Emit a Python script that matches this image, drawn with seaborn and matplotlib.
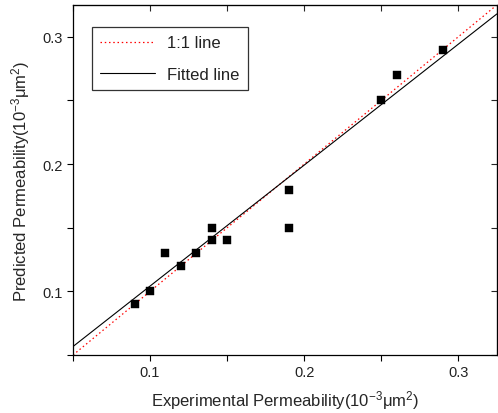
import numpy as np
import pandas as pd
import matplotlib
matplotlib.use("Agg")
import matplotlib.pyplot as plt
import seaborn as sns
from matplotlib.ticker import MultipleLocator

# ------------------------------------
# DATA
# ------------------------------------
experimental = [0.09, 0.10, 0.11, 0.12, 0.13, 0.14, 0.14, 0.15, 0.19, 0.19, 0.25, 0.26, 0.29]
predicted = [0.09, 0.10, 0.13, 0.12, 0.13, 0.15, 0.14, 0.14, 0.18, 0.15, 0.25, 0.27, 0.29]
axis_range = [0.05, 0.325]

# fitted line
fit_slope = 0.95
fit_intercept = 0.0092

df = pd.DataFrame({"Experimental": experimental, "Predicted": predicted})

# ------------------------------------
# STYLE
# ------------------------------------
sns.set_style("ticks")
plt.rcParams["font.family"] = ["Liberation Sans", "DejaVu Sans"]
plt.rcParams["mathtext.fontset"] = "custom"
plt.rcParams["mathtext.rm"] = "Liberation Sans"
plt.rcParams["mathtext.it"] = "Liberation Sans"
plt.rcParams["text.color"] = "#222222"

fig = plt.figure(figsize=(4.98, 4.14), dpi=100)
ax = fig.add_axes([0.1466, 0.140, 0.851, 0.8455])

# 1:1 line
ax.plot(axis_range, axis_range, color="red", linestyle=(0, (1.2, 2.2)),
        linewidth=0.9, label="1:1 line", zorder=2)

# fitted line
xs = np.array(axis_range)
ax.plot(xs, fit_slope * xs + fit_intercept, color="black", linewidth=0.8,
        label="Fitted line", zorder=2)

sns.scatterplot(data=df, x="Experimental", y="Predicted", marker="s",
                color="black", s=34, edgecolor="black", linewidth=0.3,
                ax=ax, zorder=3)

ax.set_xlim(axis_range)
ax.set_ylim(axis_range)
ax.xaxis.set_major_locator(MultipleLocator(0.1))
ax.xaxis.set_minor_locator(MultipleLocator(0.05))
ax.yaxis.set_major_locator(MultipleLocator(0.1))
ax.yaxis.set_minor_locator(MultipleLocator(0.05))
ax.tick_params(which="both", direction="out", length=4, width=0.8,
               labelsize=10.5, colors="black", labelcolor="#222222")

# mirrored ticks on top and right, pointing inward
top = ax.secondary_xaxis("top")
top.xaxis.set_major_locator(MultipleLocator(0.05))
top.tick_params(direction="in", length=4, width=0.8, labeltop=False)
right = ax.secondary_yaxis("right")
right.yaxis.set_major_locator(MultipleLocator(0.05))
right.tick_params(direction="in", length=4, width=0.8, labelright=False)

for sp in ax.spines.values():
    sp.set_visible(True)
    sp.set_color("black")
    sp.set_linewidth(0.9)

ax.set_xlabel(r"Experimental Permeability(10$^{-3}$μm$^{2}$)", fontsize=12, labelpad=6)
ax.set_ylabel(r"Predicted Permeability(10$^{-3}$μm$^{2}$)", fontsize=12, labelpad=7)

leg = ax.legend(loc="upper left", bbox_to_anchor=(0.045, 0.937), borderaxespad=0,
                fontsize=12, frameon=True, fancybox=False, edgecolor="black",
                handlelength=3.3, handletextpad=0.7, borderpad=0.5,
                labelspacing=1.0)
leg.get_frame().set_linewidth(0.9)

fig.savefig("out.png", dpi=100)
